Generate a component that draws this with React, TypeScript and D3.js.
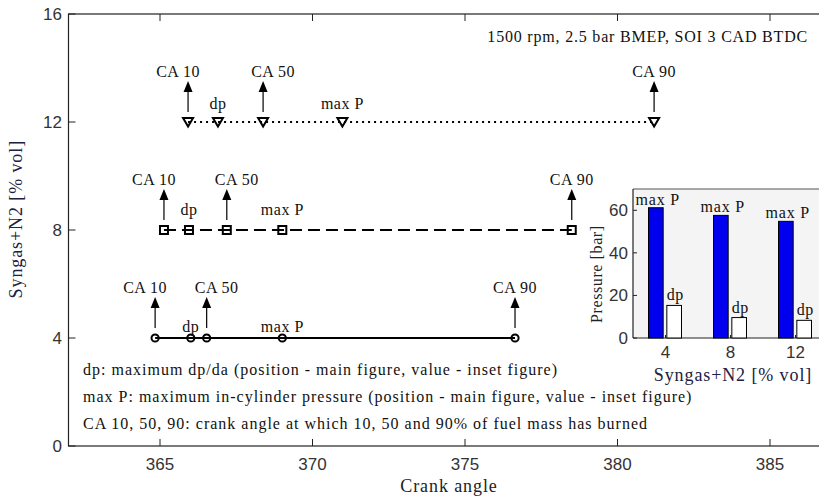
import React from 'react';
import * as d3 from 'd3';

// ---------- data ----------
const syngasLevels = [4, 8, 12];
const ca10 = [364.84, 365.13, 365.92];
const dpPos = [366.01, 365.95, 366.9];
const ca50 = [366.53, 367.19, 368.38];
const maxPPos = [369.01, 369.01, 370.98];
const ca90 = [376.64, 378.5, 381.2];
const maxPValue = [61.2, 57.6, 54.8];
const dpValue = [15.3, 9.6, 8.3];
const xTicks = [365, 370, 375, 380, 385];
const yTicks = [0, 4, 8, 12, 16];
const insetYTicks = [0, 20, 40, 60];
const title = '1500 rpm, 2.5 bar BMEP, SOI 3 CAD BTDC';
const legendLines = [
  'dp: maximum dp/da (position - main figure, value - inset figure)',
  'max P: maximum in-cylinder pressure (position - main figure, value - inset figure)',
  'CA 10, 50, 90: crank angle at which 10, 50 and 90% of fuel mass has burned',
];

// ---------- styles ----------
const SERIF = '"Liberation Serif", "Times New Roman", serif';
const SANS = '"Liberation Sans", Arial, sans-serif';
const rowStyles = [
  { marker: 'circle', dash: undefined as string | undefined, labelDy: -6 },
  { marker: 'square', dash: '12,6', labelDy: -15 },
  { marker: 'triangle', dash: '2,4', labelDy: -13 },
];
const arrowLabelDx: Record<string, number> = { 'CA 10': -10, 'CA 50': 10, 'CA 90': 0 };

const W = 819;
const H = 497;

function Marker({ kind, cx, cy }: { kind: string; cx: number; cy: number }) {
  if (kind === 'circle')
    return <circle cx={cx} cy={cy} r={3.6} fill="#fff" stroke="#000" strokeWidth={2} />;
  if (kind === 'square')
    return <rect x={cx - 4} y={cy - 4} width={8} height={8} fill="#fff" stroke="#000" strokeWidth={2} />;
  return (
    <path
      d={`M${cx - 5},${cy - 4}L${cx + 5},${cy - 4}L${cx},${cy + 4.5}Z`}
      fill="#fff"
      stroke="#000"
      strokeWidth={2}
      strokeLinejoin="miter"
    />
  );
}

export default function App() {
  const x = d3.scaleLinear().domain([362, 387]).range([68.5, 831]);
  const y = d3.scaleLinear().domain([0, 16]).range([446, 14]);

  const ix = d3.scaleLinear().domain([2, 14]).range([633, 828]);
  const iy = d3.scaleLinear().domain([0, 70]).range([338, 189]);
  const sub = d3.scaleBand<string>().domain(['maxP', 'dp']).range([-17, 16]).paddingInner(0.2);

  const lineGen = d3
    .line<number>()
    .x((d) => x(d))
    .y(0);

  const [x0, x1] = x.range();
  const [yb, yt] = y.range();

  return (
    <svg
      width={W}
      height={H}
      style={{ position: 'absolute', left: 0, top: 0, background: '#fff' }}
      xmlns="http://www.w3.org/2000/svg"
    >
      <rect x={0} y={0} width={W} height={H} fill="#fff" />

      {/* main axes frame */}
      <rect x={x0} y={yt} width={x1 - x0} height={yb - yt} fill="none" stroke="#222" strokeWidth={1.2} />
      {xTicks.map((t) => (
        <g key={'xt' + t}>
          <line x1={x(t)} x2={x(t)} y1={yb} y2={yb - 7} stroke="#222" />
          <line x1={x(t)} x2={x(t)} y1={yt} y2={yt + 7} stroke="#222" />
          <text x={x(t)} y={yb + 24} textAnchor="middle" fontFamily={SANS} fontSize={17} fill="#333">
            {t}
          </text>
        </g>
      ))}
      {yTicks.map((t) => (
        <g key={'yt' + t}>
          <line x1={x0} x2={x0 + 7} y1={y(t)} y2={y(t)} stroke="#222" />
          <text x={62} y={y(t) + 6} textAnchor="end" fontFamily={SANS} fontSize={17} fill="#333">
            {t}
          </text>
        </g>
      ))}
      <text x={449} y={492} textAnchor="middle" fontFamily={SERIF} fontSize={18} letterSpacing={0.9} fill="#222">
        Crank angle
      </text>
      <text
        transform={`translate(22,${y(8.4)}) rotate(-90)`}
        textAnchor="middle"
        fontFamily={SERIF}
        fontSize={18}
        letterSpacing={0.9}
        fill="#202040"
      >
        Syngas+N2 [% vol]
      </text>

      {/* title */}
      <text x={808} y={42} textAnchor="end" fontFamily={SERIF} fontSize={16} letterSpacing={0.8} fill="#111">
        {title}
      </text>

      {/* rows */}
      {syngasLevels.map((lvl, i) => {
        const st = rowStyles[i];
        const cy = y(lvl);
        const pts = [ca10[i], dpPos[i], ca50[i], maxPPos[i], ca90[i]];
        const arrows = [
          { label: 'CA 10', v: ca10[i] },
          { label: 'CA 50', v: ca50[i] },
          { label: 'CA 90', v: ca90[i] },
        ];
        const pointLabels = [
          { label: 'dp', v: dpPos[i] },
          { label: 'max P', v: maxPPos[i] },
        ];
        return (
          <g key={'row' + lvl}>
            {pts.map((p, k) => (
              <Marker key={k} kind={st.marker} cx={x(p)} cy={cy} />
            ))}
            <path
              d={lineGen([ca10[i], ca90[i]]) || ''}
              transform={`translate(0,${cy})`}
              stroke="#000"
              strokeWidth={2}
              strokeDasharray={st.dash}
              fill="none"
            />
            {arrows.map((a) => {
              const ax = x(a.v);
              return (
                <g key={a.label}>
                  <line x1={ax} x2={ax} y1={cy - 10} y2={cy - 31} stroke="#000" strokeWidth={1.2} />
                  <path d={`M${ax},${cy - 41}L${ax - 4.5},${cy - 30}L${ax + 4.5},${cy - 30}Z`} fill="#000" />
                  <text
                    x={ax + arrowLabelDx[a.label]}
                    y={cy - 45}
                    textAnchor="middle"
                    fontFamily={SERIF}
                    fontSize={16}
                    letterSpacing={0.5}
                    fill="#111"
                  >
                    {a.label}
                  </text>
                </g>
              );
            })}
            {pointLabels.map((p) => (
              <text
                key={p.label}
                x={x(p.v)}
                y={cy + st.labelDy}
                textAnchor="middle"
                fontFamily={SERIF}
                fontSize={16}
                letterSpacing={0.5}
                fill="#111"
              >
                {p.label}
              </text>
            ))}
          </g>
        );
      })}

      {/* legend notes */}
      {legendLines.map((l, k) => (
        <text key={k} x={83} y={375 + k * 27} fontFamily={SERIF} fontSize={16} letterSpacing={1.0} fill="#111">
          {l}
        </text>
      ))}

      {/* inset */}
      <g>
        <rect x={ix(2)} y={iy(70)} width={ix(14) - ix(2)} height={iy(0) - iy(70)} fill="#f4f4f4" stroke="none" />
        <line x1={ix(2)} x2={ix(14)} y1={iy(70)} y2={iy(70)} stroke="#555" strokeWidth={1.2} />
        <line x1={ix(2)} x2={ix(2)} y1={iy(70)} y2={iy(0)} stroke="#222" strokeWidth={1.2} />
        <line x1={ix(2)} x2={ix(14)} y1={iy(0)} y2={iy(0)} stroke="#222" strokeWidth={1.2} />
        {syngasLevels.map((lvl, i) => {
          const cx = ix(lvl);
          const bx = cx + (sub('maxP') as number);
          const dx = cx + (sub('dp') as number);
          const bw = sub.bandwidth();
          return (
            <g key={'bar' + lvl}>
              <rect x={bx} y={iy(maxPValue[i])} width={bw} height={iy(0) - iy(maxPValue[i])} fill="#0000ee" stroke="#000" strokeWidth={1} />
              <rect x={dx} y={iy(dpValue[i])} width={bw} height={iy(0) - iy(dpValue[i])} fill="#fff" stroke="#000" strokeWidth={1} />
              <text x={bx + bw / 2 + 2} y={iy(maxPValue[i]) - 3} textAnchor="middle" fontFamily={SERIF} fontSize={16} letterSpacing={0.8} fill="#111">
                max P
              </text>
              <text x={dx + bw / 2 + 1} y={iy(dpValue[i]) - 5} textAnchor="middle" fontFamily={SERIF} fontSize={16} letterSpacing={0.5} fill="#111">
                dp
              </text>
              <line x1={cx} x2={cx} y1={iy(0)} y2={iy(0) - 3} stroke="#222" />
              <text x={cx} y={358} textAnchor="middle" fontFamily={SANS} fontSize={17} fill="#333">
                {lvl}
              </text>
            </g>
          );
        })}
        {insetYTicks.map((t) => (
          <g key={'iyt' + t}>
            <line x1={ix(2)} x2={ix(2) + 4} y1={iy(t)} y2={iy(t)} stroke="#222" />
            <text x={628} y={iy(t) + 6} textAnchor="end" fontFamily={SANS} fontSize={17} fill="#333">
              {t}
            </text>
          </g>
        ))}
        <text
          transform={`translate(602,${iy(30)}) rotate(-90)`}
          textAnchor="middle"
          fontFamily={SERIF}
          fontSize={16}
          letterSpacing={0.6}
          fill="#222"
        >
          Pressure [bar]
        </text>
        <text x={733} y={381} textAnchor="middle" fontFamily={SERIF} fontSize={18} letterSpacing={0.9} fill="#202040">
          Syngas+N2 [% vol]
        </text>
      </g>
    </svg>
  );
}
